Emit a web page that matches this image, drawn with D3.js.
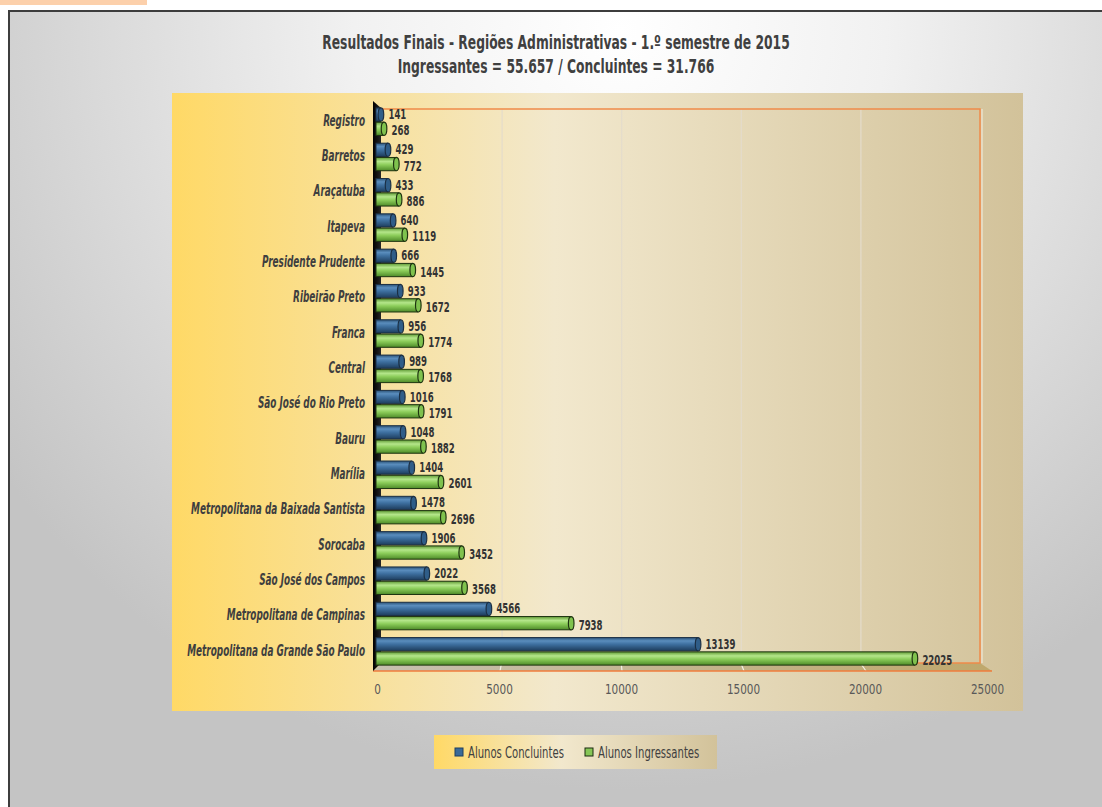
<!DOCTYPE html>
<html>
<head>
<meta charset="utf-8">
<script src="https://cdn.jsdelivr.net/npm/d3@7"></script>
<style>
  html, body { margin: 0; padding: 0; background: #ffffff; }
  svg { display: block; }
  text { font-family: "DejaVu Sans Condensed", "DejaVu Sans", sans-serif; }
</style>
</head>
<body>
<svg id="chart" width="1102" height="807"></svg>
<script>
const categories = ["Registro", "Barretos", "Araçatuba", "Itapeva", "Presidente Prudente", "Ribeirão Preto", "Franca", "Central", "São José do Rio Preto", "Bauru", "Marília", "Metropolitana da Baixada Santista", "Sorocaba", "São José dos Campos", "Metropolitana de Campinas", "Metropolitana da Grande São Paulo"];
const concluintes = [141, 429, 433, 640, 666, 933, 956, 989, 1016, 1048, 1404, 1478, 1906, 2022, 4566, 13139];
const ingressantes = [268, 772, 886, 1119, 1445, 1672, 1774, 1768, 1791, 1882, 2601, 2696, 3452, 3568, 7938, 22025];
const tickValues = [0, 5000, 10000, 15000, 20000, 25000];
const seriesNames = ["Alunos Concluintes", "Alunos Ingressantes"];
const titleLines = ["Resultados Finais - Regiões Administrativas - 1.º semestre de 2015", "Ingressantes = 55.657 / Concluintes = 31.766"];

const FONT = "'DejaVu Sans Condensed', 'DejaVu Sans', sans-serif";
const svg = d3.select("#chart");
const defs = svg.append("defs");

// Backgrounds
const bg = defs.append("radialGradient").attr("id", "bgGrad")
  .attr("gradientUnits", "userSpaceOnUse").attr("cx", 620).attr("cy", 30).attr("r", 760);
bg.append("stop").attr("offset", "0%").attr("stop-color", "#ffffff");
bg.append("stop").attr("offset", "35%").attr("stop-color", "#f1f1f1");
bg.append("stop").attr("offset", "100%").attr("stop-color", "#c4c4c4");

function panelGrad(id) {
  const g = defs.append("linearGradient").attr("id", id).attr("x1", "0").attr("x2", "1").attr("y1", "0").attr("y2", "0");
  g.append("stop").attr("offset", "0%").attr("stop-color", "#ffd966");
  g.append("stop").attr("offset", "45%").attr("stop-color", "#f2e8cd");
  g.append("stop").attr("offset", "100%").attr("stop-color", "#d2c29a");
}
panelGrad("panelGrad");
panelGrad("legendGrad");

function cylGrad(id, stops) {
  const g = defs.append("linearGradient").attr("id", id).attr("x1", "0").attr("x2", "0").attr("y1", "0").attr("y2", "1");
  stops.forEach(s => g.append("stop").attr("offset", s[0]).attr("stop-color", s[1]));
}
cylGrad("blueCyl", [["0%", "#2c5479"], ["25%", "#5a8dbd"], ["50%", "#3e70a0"], ["100%", "#1d3c5c"]]);
cylGrad("greenCyl", [["0%", "#5f9a35"], ["30%", "#b4e68a"], ["55%", "#8ccd5a"], ["100%", "#4d8a28"]]);

const floorGrad = defs.append("linearGradient").attr("id", "floorGrad").attr("x1", "0").attr("x2", "1");
floorGrad.append("stop").attr("offset", "0%").attr("stop-color", "#c6c0b0");
floorGrad.append("stop").attr("offset", "100%").attr("stop-color", "#bfa86c");

const wallGrad = defs.append("linearGradient").attr("id", "wallGrad").attr("x1", "0").attr("x2", "1");
wallGrad.append("stop").attr("offset", "0%").attr("stop-color", "#000000");
wallGrad.append("stop").attr("offset", "100%").attr("stop-color", "#262626");

// outer frame
svg.append("rect").attr("x", 0).attr("y", 0).attr("width", 147).attr("height", 5).attr("fill", "#fcd0ab");
svg.append("rect").attr("x", 9).attr("y", 11).attr("width", 1200).attr("height", 900)
  .attr("fill", "url(#bgGrad)").attr("stroke", "#3d3d3d").attr("stroke-width", 2);

// title
svg.append("g").selectAll("text").data(titleLines).join("text")
  .attr("transform", (d, i) => `translate(556,${49 + i * 24}) scale(0.72,1)`)
  .attr("text-anchor", "middle").attr("font-weight", "bold").attr("font-size", 19)
  .attr("fill", "#404040").text(d => d);

// plot area panel
const panel = { x: 172, y: 93, w: 851, h: 618 };
svg.append("rect").attr("x", panel.x).attr("y", panel.y).attr("width", panel.w).attr("height", panel.h)
  .attr("fill", "url(#panelGrad)");

// scales
const xFront = d3.scaleLinear().domain([0, 25000]).range([377, 987]);
const xBack = d3.scaleLinear().domain([0, 25000]).range([382, 980]);
const y = d3.scaleBand().domain(categories).range([104, 669]).paddingInner(0.22).paddingOuter(0.11);
const backTop = 109, backBottom = 663, frontBottom = 671;

// gridlines on back wall
const grid = svg.append("g").attr("transform", `translate(0,${backBottom})`)
  .call(d3.axisTop(xBack).tickValues(tickValues.slice(1, -1)).tickSize(backBottom - backTop).tickFormat(""));
grid.select(".domain").remove();
grid.selectAll("line").attr("stroke", "#e4dccb").attr("stroke-width", 1.2);

// floor
svg.append("polygon")
  .attr("points", [[xBack(0), backBottom], [xBack(25000), backBottom], [xFront(25000) + 5, frontBottom], [xFront(0) - 4, frontBottom]].map(p => p.join(",")).join(" "))
  .attr("fill", "url(#floorGrad)");
svg.append("g").selectAll("line").data(tickValues.slice(1, -1)).join("line")
  .attr("x1", d => xFront(d) + 1).attr("y1", frontBottom).attr("x2", d => xBack(d)).attr("y2", backBottom)
  .attr("stroke", "#f4f0e6").attr("stroke-width", 1.2);
svg.append("line").attr("x1", xFront(0) - 4).attr("x2", xFront(25000) + 5).attr("y1", frontBottom).attr("y2", frontBottom)
  .attr("stroke", "#f07d3c").attr("stroke-width", 1.5);

// back wall edges (orange)
svg.append("path")
  .attr("d", `M${xBack(0)},${backTop}H${xBack(25000)}V${backBottom}H${xBack(0) + 2}`)
  .attr("fill", "none").attr("stroke", "#f08a4a").attr("stroke-width", 1.5);
svg.append("line").attr("x1", xBack(25000) + 2).attr("x2", xBack(25000) + 2).attr("y1", backTop).attr("y2", backBottom)
  .attr("stroke", "#f4efe2").attr("stroke-width", 1);

// left side wall (black)
svg.append("polygon")
  .attr("points", [[xFront(0) - 4, 101], [xBack(0) - 1, backTop - 1], [xBack(0) - 1, backBottom], [xFront(0) - 4, frontBottom]].map(p => p.join(",")).join(" "))
  .attr("fill", "url(#wallGrad)");

// bars
const barH = y.bandwidth() / 2 - 0.5;
const series = [
  { name: seriesNames[0], values: concluintes, fill: "url(#blueCyl)", stroke: "#1b2f44", cap: "#2f5d88", off: 0, dy: 4.5 },
  { name: seriesNames[1], values: ingressantes, fill: "url(#greenCyl)", stroke: "#1e3410", cap: "#7fc24e", off: 1, dy: 6.5 }
];

series.forEach(s => {
  const g = svg.append("g");
  const rows = categories.map((c, i) => ({ c, v: s.values[i] }));
  const yTop = d => y(d.c) + s.off * (barH + 1);
  g.selectAll("rect").data(rows).join("rect")
    .attr("x", xFront(0) - 1)
    .attr("y", yTop)
    .attr("width", d => Math.max(2, xFront(d.v) - xFront(0) + 1))
    .attr("height", barH)
    .attr("fill", s.fill).attr("stroke", s.stroke).attr("stroke-width", 1);
  g.selectAll("ellipse").data(rows).join("ellipse")
    .attr("cx", d => xFront(d.v) + 0.5)
    .attr("cy", d => yTop(d) + barH / 2)
    .attr("rx", 2.8).attr("ry", barH / 2)
    .attr("fill", s.cap).attr("stroke", s.stroke).attr("stroke-width", 1.2);
  g.selectAll("text").data(rows).join("text")
    .attr("transform", d => `translate(${xFront(d.v) + 8},${yTop(d) + barH / 2 + s.dy}) scale(0.68,1)`)
    .attr("font-size", 14).attr("font-weight", "bold").attr("fill", "#333333")
    .text(d => d.v);
});

// category labels
const yAxis = svg.append("g").attr("transform", `translate(365,0)`)
  .call(d3.axisLeft(y).tickSize(0).tickPadding(0));
yAxis.select(".domain").remove();
yAxis.selectAll("text")
  .attr("font-family", FONT)
  .attr("font-size", 15).attr("font-weight", "bold").attr("font-style", "italic")
  .attr("fill", "#3f3f3f").attr("dy", "0.28em").attr("x", 0)
  .attr("transform", "scale(0.66,1)");

// x tick labels
const xAxis = svg.append("g").attr("transform", `translate(0,${frontBottom})`)
  .call(d3.axisBottom(xFront).tickValues(tickValues).tickSize(0).tickPadding(13).tickFormat(d3.format("d")));
xAxis.select(".domain").remove();
xAxis.selectAll("text")
  .attr("font-family", FONT)
  .attr("font-size", 14.5).attr("fill", "#595959")
  .attr("transform", "scale(0.8,1)");

// legend
const legend = svg.append("g");
legend.append("rect").attr("x", 434).attr("y", 735).attr("width", 283).attr("height", 34).attr("fill", "url(#legendGrad)");
const legendX = [455, 585];
const legendFill = ["#3a6a98", "#86c656"];
const legendStroke = ["#1f3f5f", "#1a2a10"];
const li = legend.selectAll("g").data(seriesNames).join("g")
  .attr("transform", (d, i) => `translate(${legendX[i]},748)`);
li.append("rect").attr("width", 8).attr("height", 8)
  .attr("fill", (d, i) => legendFill[i]).attr("stroke", (d, i) => legendStroke[i]).attr("stroke-width", 1);
li.append("text").attr("transform", "translate(13,9.5) scale(0.7,1)").attr("font-size", 16).attr("fill", "#404040").text(d => d);
</script>
</body>
</html>
